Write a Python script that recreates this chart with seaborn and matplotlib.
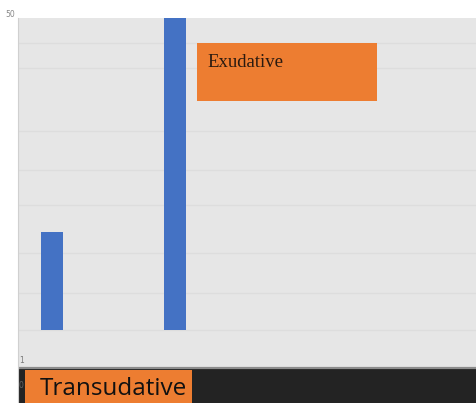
import matplotlib
matplotlib.use("Agg")
import matplotlib.pyplot as plt
from matplotlib.patches import Rectangle
import seaborn as sns
import pandas as pd

# Pleural fluid groups: bar base and top value for each
groups = ["A", "B"]
bar_base = [5.4, 5.4]
bar_top = [19.4, 50.0]

# Tick labels on the value axis
tick_values = [50, 1, -2.5]
tick_labels = ["50", "1", "0"]

# Horizontal guide lines
grid_values = [46.4, 42.9, 33.9, 28.3, 23.3, 16.4, 10.7, 5.4]

sns.set_style("white", {"axes.facecolor": "#e6e6e6"})
plt.rcParams["font.family"] = ["DejaVu Sans"]

fig = plt.figure(figsize=(4.77, 4.03), dpi=100)
ax = fig.add_axes([18 / 477, 0, 458 / 477, 385 / 403])

for g in grid_values:
    ax.axhline(g, color="#dddddd", lw=0.9, zorder=0)

df = pd.DataFrame({"group": groups,
                   "height": [t - b for t, b in zip(bar_top, bar_base)]})
sns.barplot(data=df, x="group", y="height", bottom=bar_base, color="#4472c4",
            saturation=1, width=0.178, linewidth=0, edgecolor="none",
            ax=ax, zorder=2)

ax.set_xlim(-0.275, 3.433)
ax.set_ylim(-5, 50)

# Dark band under the plotting area
ax.axhspan(-5, 0, color="#232323", zorder=1)
ax.axhline(0, color="#8c8c8c", lw=1.6, zorder=1)

# Category boxes
ax.add_patch(Rectangle((0.391, 0.784), 0.393, 0.151, transform=ax.transAxes,
                       facecolor="#ed7d31", edgecolor="none", zorder=3))
ax.text(0.414, 0.884, "Exudative", transform=ax.transAxes, fontsize=13.5,
        family="Liberation Serif", color="#2a1a10", va="center", ha="left", zorder=4)

ax.add_patch(Rectangle((0.0153, 0.0), 0.365, 0.0857, transform=ax.transAxes,
                       facecolor="#ed7d31", edgecolor="none", zorder=3, clip_on=False))
ax.text(0.047, 0.036, "Transudative", transform=ax.transAxes, fontsize=17.5,
        family="Open Sans", color="#111111", va="center", ha="left", zorder=4)

# Tiny value-axis labels
ax.set_yticks([])
ax.set_xticks([])
ax.text(-0.017, 1.01, tick_labels[0], fontsize=5.5, color="#888888",
        transform=ax.transAxes, ha="center", va="center", clip_on=False)
ax.text(0.002, tick_values[1] + 0.1, tick_labels[1], fontsize=5.5, color="#777777",
        transform=ax.get_yaxis_transform(), ha="left", va="center")
ax.text(0.002, tick_values[2], tick_labels[2], fontsize=5.5, color="#666666",
        transform=ax.get_yaxis_transform(), ha="left", va="center", zorder=4)

ax.set_xlabel("")
ax.set_ylabel("")
for side in ["top", "right", "bottom"]:
    ax.spines[side].set_visible(False)
ax.spines["left"].set_color("#d0d0d0")
ax.spines["left"].set_linewidth(0.8)

fig.savefig("out.png", dpi=100)
